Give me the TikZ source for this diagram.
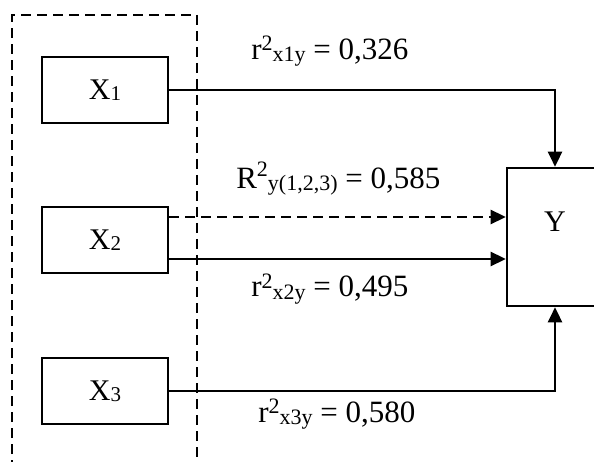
\documentclass[tikz,border=0pt]{standalone}
\usepackage{fontspec}
\setmainfont{Liberation Serif}
\usetikzlibrary{arrows.meta}
\newcommand{\bigf}{\fontsize{30}{36}\selectfont}
\newcommand{\smf}{\fontsize{21}{24}\selectfont}
\newcommand{\labf}{\fontsize{31}{36}\selectfont}
\newcommand{\supf}{\fontsize{22}{24}\selectfont}
\newcommand{\Xsub}[2]{#1\raisebox{-1pt}{\smf #2}}
\newcommand{\rlab}[4]{#1\raisebox{#2}{\supf 2}\raisebox{-2pt}{\supf #3} = #4}
\begin{document}
\begin{tikzpicture}[x=1pt, y=-1pt, line width=2.6pt,
  xbox/.style={draw, minimum width=126pt, minimum height=66pt, inner sep=0pt, font=\bigf},
  arr/.style={-{Triangle[length=15pt,width=14pt]}},
  dsh/.style={dash pattern=on 10pt off 6pt, line width=2.6pt},
  lab/.style={anchor=base west, font=\labf, inner sep=0pt}]
\clip (0,0) rectangle (594,462);
\node[xbox] (X1) at (105,90) {\Xsub{X}{1}};
\node[xbox] (X2) at (105,240) {\Xsub{X}{2}};
\node[xbox] (X3) at (105,391) {\Xsub{X}{3}};
\node[draw, minimum width=96pt, minimum height=138pt, inner sep=0pt,
  label={[font=\bigf, yshift=15pt]center:Y}] (Y) at (555,237) {};
\draw[dsh] (12,470) -- (12,15) -- (197,15) -- (197,470);
\coordinate (dl) at (0,217);
\coordinate (sl) at (0,259);
\draw[arr] (X1.east) -| (Y.north);
\draw[arr, dsh] (X2.east |- dl) -- (Y.west |- dl);
\draw[arr] (X2.east |- sl) -- (Y.west |- sl);
\draw[arr] (X3.east) -| (Y.south);
\node[lab] (L1) at (250,60) {\rlab{r}{9pt}{x1y}{0,326}};
\node[lab] (L2) at (235,189) {\rlab{R}{12pt}{y(1,2,3)}{0,585}};
\node[lab] (L3) at (250,297) {\rlab{r}{9pt}{x2y}{0,495}};
\node[lab] (L4) at (257,422) {\rlab{r}{9pt}{x3y}{0,580}};
\end{tikzpicture}
\end{document}
